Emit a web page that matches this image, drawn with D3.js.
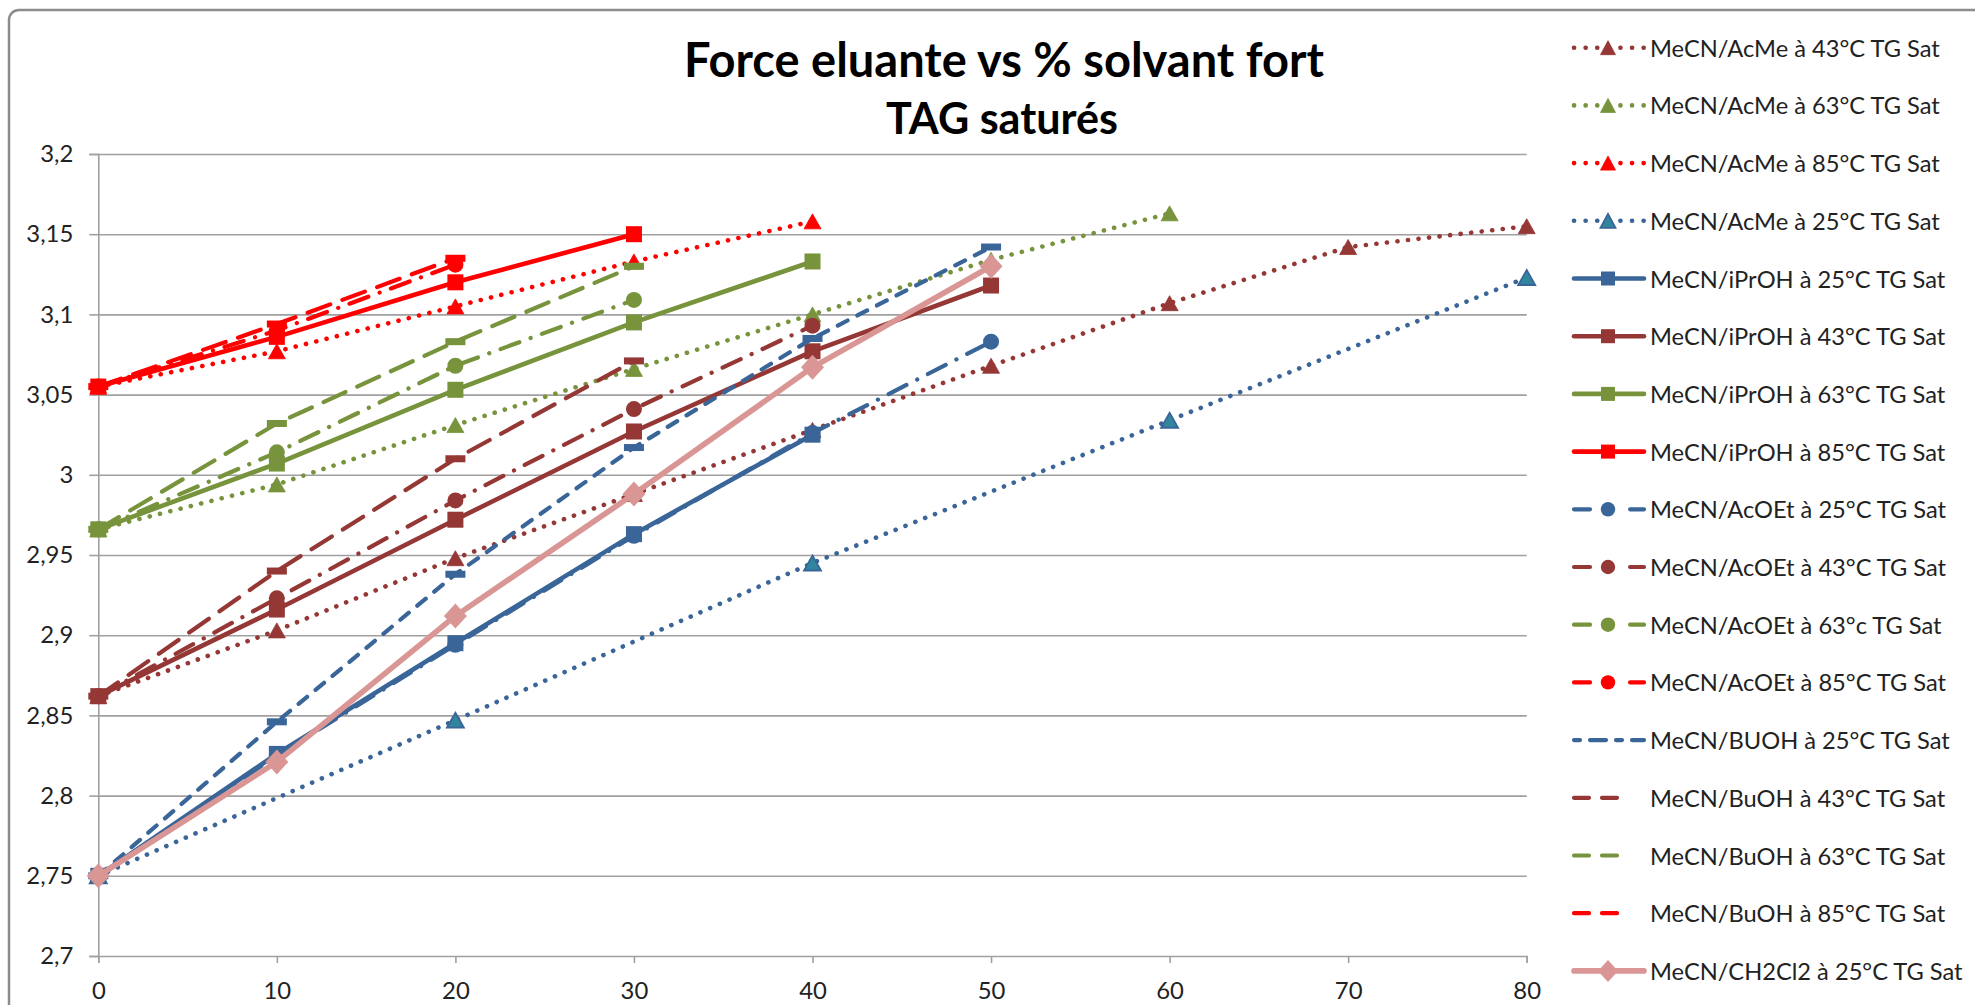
<!DOCTYPE html>
<html><head><meta charset="utf-8">
<script src="https://cdn.jsdelivr.net/npm/d3@7"></script>
<style>body{margin:0;background:#fff;} svg{display:block;}</style>
</head><body>
<svg id="chart" width="1975" height="1005"></svg>
<script>
// ---------- data ----------
const xValues = [0, 10, 20, 30, 40, 50, 60, 70, 80];
const xTickLabels = ["0", "10", "20", "30", "40", "50", "60", "70", "80"];
const yTickValues = [2.7, 2.75, 2.8, 2.85, 2.9, 2.95, 3.0, 3.05, 3.1, 3.15, 3.2];
const yTickLabels = ["2,7", "2,75", "2,8", "2,85", "2,9", "2,95", "3", "3,05", "3,1", "3,15", "3,2"];
const titleLines = ["Force eluante vs % solvant fort", "TAG saturés"];

const seriesNames = [
  "MeCN/AcMe à 43°C TG Sat", "MeCN/AcMe à 63°C TG Sat", "MeCN/AcMe à 85°C TG Sat", "MeCN/AcMe à 25°C TG Sat",
  "MeCN/iPrOH à 25°C TG Sat", "MeCN/iPrOH à 43°C TG Sat", "MeCN/iPrOH à 63°C TG Sat", "MeCN/iPrOH à 85°C TG Sat",
  "MeCN/AcOEt à 25°C TG Sat", "MeCN/AcOEt à 43°C TG Sat", "MeCN/AcOEt à 63°c TG Sat", "MeCN/AcOEt à 85°C TG Sat",
  "MeCN/BUOH à 25°C TG Sat", "MeCN/BuOH à 43°C TG Sat", "MeCN/BuOH à 63°C TG Sat", "MeCN/BuOH à 85°C TG Sat",
  "MeCN/CH2Cl2 à 25°C TG Sat"
];

const acMe43  = [2.862, 2.903, 2.948, 2.988, 3.028, 3.068, 3.107, 3.142, 3.155];
const acMe63  = [2.966, 2.994, 3.031, 3.066, 3.100, 3.134, 3.163];
const acMe85  = [3.055, 3.077, 3.105, 3.133, 3.158];
const acMe25  = [2.750, null, 2.847, null, 2.945, null, 3.034, null, 3.123];
const iPrOH25 = [2.750, 2.826, 2.895, 2.963, 3.025];
const iPrOH43 = [2.862, 2.916, 2.972, 3.027, 3.077, 3.118];
const iPrOH63 = [2.966, 3.007, 3.053, 3.095, 3.133];
const iPrOH85 = [3.055, 3.086, 3.120, 3.150];
const acOEt25 = [2.750, 2.825, 2.894, 2.962, 3.026, 3.083];
const acOEt43 = [2.862, 2.923, 2.984, 3.041, 3.093];
const acOEt63 = [2.966, 3.014, 3.068, 3.109];
const acOEt85 = [3.055, 3.090, 3.131];
const buOH25  = [2.750, 2.846, 2.938, 3.017, 3.085, 3.142];
const buOH43  = [2.862, 2.940, 3.010, 3.071];
const buOH63  = [2.966, 3.032, 3.083, 3.130];
const buOH85  = [3.055, 3.094, 3.135];
const ch2cl2  = [2.750, 2.821, 2.912, 2.988, 3.067, 3.130];

const seriesValues = [acMe43, acMe63, acMe85, acMe25, iPrOH25, iPrOH43, iPrOH63, iPrOH85,
  acOEt25, acOEt43, acOEt63, acOEt85, buOH25, buOH43, buOH63, buOH85, ch2cl2];

// ---------- styles ----------
const BLUE = "#3A6598", BROWN = "#953735", GREEN = "#77933C", RED = "#FF0000", PINK = "#D99694", TEAL = "#31859C";
const seriesColors = [BROWN, GREEN, RED, BLUE, BLUE, BROWN, GREEN, RED, BLUE, BROWN, GREEN, RED, BLUE, BROWN, GREEN, RED, PINK];
const seriesLine = ["dot","dot","dot","dot","solid","solid","solid","solid","dashdot","dashdot","dashdot","dashdot","dash","lgdash","lgdash","lgdash","solidw"];
const seriesMarker = ["tri","tri","tri","tri","sq","sq","sq","sq","circ","circ","circ","circ","bar","bar","bar","bar","diam"];

const lineStyles = {
  dot:     {w: 4.6, dash: "0.1 10.5"},
  solid:   {w: 4.6, dash: null},
  solidw:  {w: 5.6, dash: null},
  dashdot: {w: 4.2, dash: "20 12 0.1 12"},
  dash:    {w: 4.2, dash: "11 11"},
  lgdash:  {w: 4.2, dash: "24 13"}
};

// ---------- layout ----------
const svg = d3.select("#chart");
const x = d3.scaleLinear().domain([0, 80]).range([98.3, 1526.7]);
const y = d3.scaleLinear().domain([2.7, 3.2]).range([956, 154]);
const FONT = "Lato, 'Open Sans', sans-serif";

function fitSize(text, weight, target, base) {
  const t = svg.append("text").attr("font-family", FONT).attr("font-weight", weight)
    .attr("font-size", base).text(text);
  const w = t.node().getComputedTextLength();
  t.remove();
  return base * target / w;
}

// outer border
svg.append("rect").attr("x", 9).attr("y", 10).attr("width", 2300).attr("height", 1300)
  .attr("rx", 10).attr("fill", "none").attr("stroke", "#8C8C8C").attr("stroke-width", 2.5);

// gridlines
svg.append("g").attr("transform", `translate(${x(0)},0)`)
  .call(d3.axisLeft(y).tickValues(yTickValues.slice(1)).tickSize(-(x(80) - x(0))).tickFormat(""))
  .call(g => g.select(".domain").remove())
  .call(g => g.selectAll("line").attr("stroke", "#A0A0A0").attr("stroke-width", 1.6));

// y axis
const tickFs = fitSize("3,15", 400, 47, 24);
svg.append("g").attr("transform", `translate(${x(0)},0)`)
  .call(d3.axisLeft(y).tickValues(yTickValues).tickSize(9).tickPadding(16)
    .tickFormat((d, i) => yTickLabels[i]))
  .call(g => g.select(".domain").attr("stroke", "#A0A0A0").attr("stroke-width", 1.6))
  .call(g => g.selectAll("line").attr("stroke", "#A0A0A0").attr("stroke-width", 1.6))
  .call(g => g.selectAll("text").attr("font-family", FONT).attr("font-size", tickFs).attr("fill", "#222"));

// x axis
svg.append("g").attr("transform", `translate(0,${y(2.7)})`)
  .call(d3.axisBottom(x).tickValues(xValues).tickSize(7).tickPadding(19)
    .tickFormat((d, i) => xTickLabels[i]))
  .call(g => g.select(".domain").attr("stroke", "#A0A0A0").attr("stroke-width", 1.6))
  .call(g => g.selectAll("line").attr("stroke", "#A0A0A0").attr("stroke-width", 1.6))
  .call(g => g.selectAll("text").attr("font-family", FONT).attr("font-size", tickFs).attr("fill", "#222"));

// markers
function drawMarker(g, type, cx, cy, color, legend) {
  if (type === "tri") {
    const w = legend ? 15 : 17, h = legend ? 14 : 15;
    g.append("path").attr("d", `M${cx},${cy - h/2} L${cx + w/2},${cy + h/2} L${cx - w/2},${cy + h/2} Z`)
      .attr("fill", color === BLUE ? TEAL : color)
      .attr("stroke", color).attr("stroke-width", color === BLUE ? 1.8 : 0.8);
  } else if (type === "sq") {
    const s = legend ? 14 : 16;
    g.append("rect").attr("x", cx - s/2).attr("y", cy - s/2).attr("width", s).attr("height", s).attr("fill", color);
  } else if (type === "circ") {
    g.append("circle").attr("cx", cx).attr("cy", cy).attr("r", legend ? 7.2 : 8).attr("fill", color);
  } else if (type === "bar") {
    g.append("rect").attr("x", cx - 10).attr("y", cy - 3.5).attr("width", 20).attr("height", 7).attr("fill", color);
  } else if (type === "diam") {
    const a = legend ? 10 : 11.5, b = legend ? 11 : 12.5;
    g.append("path").attr("d", `M${cx},${cy - b} L${cx + a},${cy} L${cx},${cy + b} L${cx - a},${cy} Z`).attr("fill", color);
  }
}

// series
const line = d3.line().x(d => x(d.x)).y(d => y(d.v));
seriesValues.forEach((vals, i) => {
  const pts = vals.map((v, j) => ({x: xValues[j], v})).filter(d => d.v != null);
  const st = lineStyles[seriesLine[i]];
  const g = svg.append("g");
  g.append("path").datum(pts).attr("d", line).attr("fill", "none")
    .attr("stroke", seriesColors[i]).attr("stroke-width", st.w)
    .attr("stroke-linecap", "round").attr("stroke-linejoin", "round")
    .attr("stroke-dasharray", st.dash);
  pts.forEach(d => drawMarker(g, seriesMarker[i], x(d.x), y(d.v), seriesColors[i], false));
});

// title
const title1Fs = fitSize(titleLines[0], 700, 640, 40);
const title2Fs = fitSize(titleLines[1], 700, 232, 40);
svg.append("text").attr("x", 1004).attr("y", 77).attr("text-anchor", "middle")
  .attr("font-family", FONT).attr("font-weight", 700).attr("font-size", title1Fs).attr("fill", "#000").text(titleLines[0]);
svg.append("text").attr("x", 1002).attr("y", 134).attr("text-anchor", "middle")
  .attr("font-family", FONT).attr("font-weight", 700).attr("font-size", title2Fs).attr("fill", "#000").text(titleLines[1]);

// legend
const legFs = fitSize(seriesNames[0], 400, 290, 24);
seriesNames.forEach((name, i) => {
  const cy = 47.7 + i * 57.7;
  const g = svg.append("g");
  const st = lineStyles[seriesLine[i]];
  const x2 = (seriesLine[i] === "lgdash") ? 1628 : 1644;
  let dash = st.dash;
  if (seriesLine[i] === "dot") dash = "0.1 11.5";
  if (seriesLine[i] === "dashdot") dash = "16 20 0.1 20";
  if (seriesLine[i] === "dash") dash = "6 10 16 10";
  if (seriesLine[i] === "lgdash") dash = "15 13";
  g.append("line").attr("x1", 1574).attr("x2", x2).attr("y1", cy).attr("y2", cy)
    .attr("stroke", seriesColors[i]).attr("stroke-width", st.w)
    .attr("stroke-linecap", "round").attr("stroke-dasharray", dash);
  if (seriesMarker[i] !== "bar") drawMarker(g, seriesMarker[i], 1608, cy, seriesColors[i], true);
  g.append("text").attr("x", 1650).attr("y", cy + 9).attr("font-family", FONT)
    .attr("font-size", legFs).attr("fill", "#222").text(name);
});
</script>
</body></html>
